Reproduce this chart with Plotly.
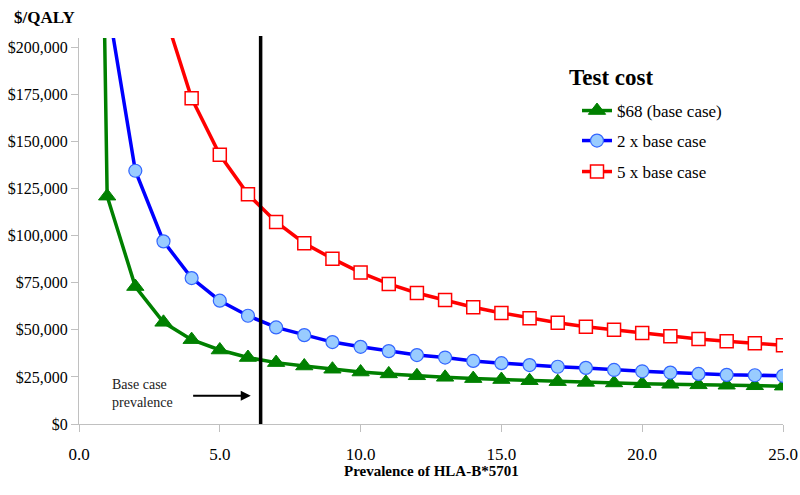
import plotly.graph_objects as go

prevalence = [0.5, 1, 2, 3, 4, 5, 6, 7, 8, 9, 10, 11, 12, 13, 14, 15, 16, 17, 18, 19, 20, 21, 22, 23, 24, 25]
cost_base = [600000, 121000, 73000, 54000, 44800, 39300, 35300, 32600, 30800, 29100, 27600, 26600, 25600, 24800, 24100, 23600, 23000, 22500, 22100, 21800, 21400, 21100, 20800, 20600, 20300, 20100]
prev_x2 = prevalence[1:]
cost_2x = [225000, 134500, 97000, 77500, 65500, 57500, 51300, 47200, 43500, 41000, 38700, 36600, 35300, 33500, 32300, 31300, 30400, 29800, 28700, 28000, 27300, 26600, 26100, 25900, 25600]
prev_x5 = prevalence[2:]
cost_5x = [323000, 220000, 173000, 143000, 122000, 107300, 96000, 87800, 80400, 74400, 69600, 65800, 62000, 59000, 56200, 53800, 51700, 50000, 48300, 46600, 45100, 44000, 42900, 41800]
series_names = ["$68 (base case)", "2 x base case", "5 x base case"]
base_case_prevalence = 6.45
x_ticks = [0, 5, 10, 15, 20, 25]
y_ticks = [0, 25000, 50000, 75000, 100000, 125000, 150000, 175000, 200000]

font_family = "Liberation Serif"

# plot area in page pixels: left 79, right 783, top 38, bottom 424
PL, PR, PT, PB = 79, 783, 38, 424
W, H = 704, 386
FW, FH = 800, 495


def px(xp):
    return (xp - PL) / W


def py(yp):
    return (PB - yp) / H


fig = go.Figure()
fig.add_trace(go.Scatter(
    x=prevalence, y=cost_base, name=series_names[0], mode="lines+markers",
    line=dict(color="#008000", width=3.5),
    marker=dict(symbol="triangle-up", size=15, color="#008000", line=dict(color="#008000", width=1)),
    legend="legend"))
fig.add_trace(go.Scatter(
    x=prev_x2, y=cost_2x, name=series_names[1], mode="lines+markers",
    line=dict(color="#0000FF", width=3.5),
    marker=dict(symbol="circle", size=13, color="#99CCFF", line=dict(color="#3366FF", width=1.2)),
    legend="legend2"))
fig.add_trace(go.Scatter(
    x=prev_x5, y=cost_5x, name=series_names[2], mode="lines+markers",
    line=dict(color="#FF0000", width=3.5),
    marker=dict(symbol="square", size=13, color="#FFFFFF", line=dict(color="#FF0000", width=1.5)),
    legend="legend3"))

fig.add_shape(type="line", xref="x", yref="paper", x0=base_case_prevalence, x1=base_case_prevalence,
              y0=0, y1=1.005, line=dict(color="black", width=3.5))

fig.add_annotation(x=6.1, y=15000, ax=4.0, ay=15000, xref="x", yref="y", axref="x", ayref="y",
                   text="", showarrow=True, arrowhead=2, arrowsize=1, arrowwidth=2, arrowcolor="black")
fig.add_annotation(x=1.1, y=16400, xref="x", yref="y", xanchor="left", yanchor="middle", align="left",
                   text="Base case<br>prevalence", showarrow=False,
                   font=dict(family=font_family, size=14, color="#222222"))
fig.add_annotation(x=px(12), y=py(17), xref="paper", yref="paper", xanchor="left", yanchor="middle",
                   text="<b>$/QALY</b>", showarrow=False, font=dict(family=font_family, size=17, color="black"))
fig.add_annotation(x=px(567), y=py(77), xref="paper", yref="paper", xanchor="left", yanchor="middle",
                   text="<b>Test cost</b>", showarrow=False, font=dict(family=font_family, size=23, color="black"))
fig.add_annotation(x=0.5, y=py(471), xref="paper", yref="paper", xanchor="center", yanchor="middle",
                   text="<b>Prevalence of HLA-B*5701</b>", showarrow=False,
                   font=dict(family=font_family, size=15, color="black"))

legend_common = dict(xref="paper", yref="paper", xanchor="left", yanchor="middle",
                     bgcolor="rgba(0,0,0,0)", font=dict(family=font_family, size=17, color="black"))
lx = px(577)
fig.update_layout(
    showlegend=True,
    legend=dict(x=lx, y=py(111), **legend_common),
    legend2=dict(x=lx, y=py(141), **legend_common),
    legend3=dict(x=lx, y=py(172), **legend_common),
)

fig.update_layout(
    width=FW, height=FH,
    margin=dict(l=PL, r=FW - PR, t=PT, b=FH - PB, autoexpand=False),
    paper_bgcolor="white", plot_bgcolor="white",
    font=dict(family=font_family, size=16, color="black"),
    xaxis=dict(range=[0, 25], tickvals=x_ticks, ticktext=[f"{v:.1f}" for v in x_ticks],
               showgrid=False, zeroline=False, showline=True, linecolor="#C0C0C0", linewidth=1,
               ticks="outside", tickcolor="#C0C0C0", ticklen=7, automargin=False,
               ticklabelstandoff=8,
               tickfont=dict(family=font_family, size=17)),
    yaxis=dict(range=[0, 205000], tickvals=y_ticks, ticktext=[f"${v:,.0f}" for v in y_ticks],
               showgrid=False, zeroline=False, showline=True, linecolor="#C0C0C0", linewidth=1,
               ticks="outside", tickcolor="#C0C0C0", ticklen=7, automargin=False,
               tickfont=dict(family=font_family, size=16)),
)

fig.write_html("out.html", config={"displayModeBar": False},
               post_script="document.body.style.margin='0px';document.body.style.overflow='hidden';")
